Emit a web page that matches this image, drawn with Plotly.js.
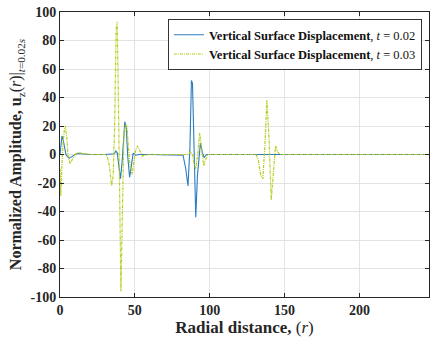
<!DOCTYPE html>
<html>
<head>
<meta charset="utf-8">
<script src="https://cdn.plot.ly/plotly-3.0.1.min.js"></script>
<style>html,body{margin:0;padding:0;background:#fff;}#chart{width:430px;height:337px;}</style>
</head>
<body>
<div id="chart"></div>
<script>
// Series 1: t = 0.02
const r1 = [0, 0.5, 1.3, 2, 3, 4, 5, 6.2, 8, 10, 12, 15, 20, 30, 35, 36.3, 37.3, 38.3, 39.3, 40.4, 41.5, 42.4, 43.3, 44.3, 45.3, 46.5, 47.7, 48.9, 50.5, 53, 60, 80, 82.2, 84, 85.5, 86.8, 87.8, 88.5, 89.5, 90.7, 91.8, 93.8, 95.2, 96.3, 98, 100, 250];
const u1 = [0, 8, 13, 11, 4, 0, -1.5, -2.5, -1.5, 0, 0.7, 0.3, 0, 0, 0, 0.5, 2.5, 1, -8, -17, -5, 14, 23, 18, -2, -16, -6, 1, -0.5, 0, 0, 0, -0.5, -10, -22, 5, 52, 50, 0, -44, -15, 8, 1, -2, 0, 0, 0];
// Series 2: t = 0.03
const r2 = [0, 0.5, 1.2, 2, 3, 3.6, 4.5, 5.5, 6.7, 8, 10, 12, 15, 20, 30, 31.5, 33, 34.5, 35.5, 36.5, 37.5, 38.2, 39, 39.8, 40.7, 41.7, 42.7, 43.7, 44.7, 45.7, 46.8, 48.2, 49.3, 50.5, 51.8, 53.2, 55, 57, 60, 80, 86, 87.2, 88.5, 89.5, 90.7, 92, 93.3, 94.5, 96, 97.5, 99, 102, 125, 131, 132.5, 134, 135.5, 136.8, 138.2, 139.7, 141.1, 142.6, 144, 145.3, 147, 150, 250];
const u2 = [-10, -29, -10, 8, 18, 20, 12, -2, -6.5, -4, 0, 1.3, 0.8, 0, 0, -1, -8, -22, -15, 20, 88, 93, 40, -50, -96, -40, 15, 21, 20, 5, -8, -14, -5, 3, 6, 3, -1, -0.5, 0, 0, 0, 2, 0, -6, -10, 0, 15, 5, -8, -3, 0, 0, 0, 0, -4, -14, -17, 5, 38, 10, -32, -10, 6, 2, 0, 0, 0];

const names = ["<b>Vertical Surface Displacement</b>, <i>t</i> = 0.02", "<b>Vertical Surface Displacement</b>, <i>t</i> = 0.03"];
const xTicks = [0, 50, 100, 150, 200];
const xTickText = ["0", "50", "100", "150", "200"];
const yTicks = [-100, -80, -60, -40, -20, 0, 20, 40, 60, 80, 100];
const yTickText = ["-100", "-80", "-60", "-40", "-20", "0", "20", "40", "60", "80", "100"];

const serif = "'Liberation Serif', serif";
const bold = arr => arr.map(s => "<b>" + s + "</b>");

const data = [
  {x: r1, y: u1, type: "scatter", mode: "lines", name: names[0],
   line: {color: "#2b7bbd", width: 1.1}},
  {x: r2, y: u2, type: "scatter", mode: "lines", name: names[1],
   line: {color: "#b8cc1c", width: 1.2, dash: "3px,1px,1px,1px"}}
];

const axisCommon = {
  showline: true, linecolor: "#262626", linewidth: 1, mirror: "ticks",
  ticks: "inside", ticklen: 4, tickcolor: "#262626", tickwidth: 1,
  showgrid: true, gridcolor: "#e3e3e3", gridwidth: 1, zeroline: false,
  tickfont: {family: serif, size: 14, color: "#262626"}
};

const layout = {
  width: 430, height: 337,
  margin: {l: 60, r: 1, t: 12, b: 40},
  paper_bgcolor: "#fff", plot_bgcolor: "#fff",
  showlegend: true,
  legend: {
    x: 0.981, y: 0.975, xanchor: "right", yanchor: "top",
    bgcolor: "#fff", bordercolor: "#333", borderwidth: 1,
    font: {family: serif, size: 12.5, color: "#111"},
    itemwidth: 30, tracegroupgap: 0
  },
  xaxis: Object.assign({}, axisCommon, {
    range: [0, 246.5], tickvals: xTicks, ticktext: bold(xTickText),
    title: {text: "<b>Radial distance,</b> (<i>r</i>)", font: {family: serif, size: 17, color: "#262626"}, standoff: 2}
  }),
  yaxis: Object.assign({}, axisCommon, {
    range: [-100, 100], tickvals: yTicks, ticktext: bold(yTickText),
    title: {text: "<b>Normalized Amplitude, u</b><sub>z</sub>(<i>r</i>)|<sub><i>t</i>=0.02<i>s</i></sub>", font: {family: serif, size: 16, color: "#262626"}, standoff: 4}
  })
};

Plotly.newPlot("chart", data, layout, {staticPlot: true, displayModeBar: false});
</script>
</body>
</html>
